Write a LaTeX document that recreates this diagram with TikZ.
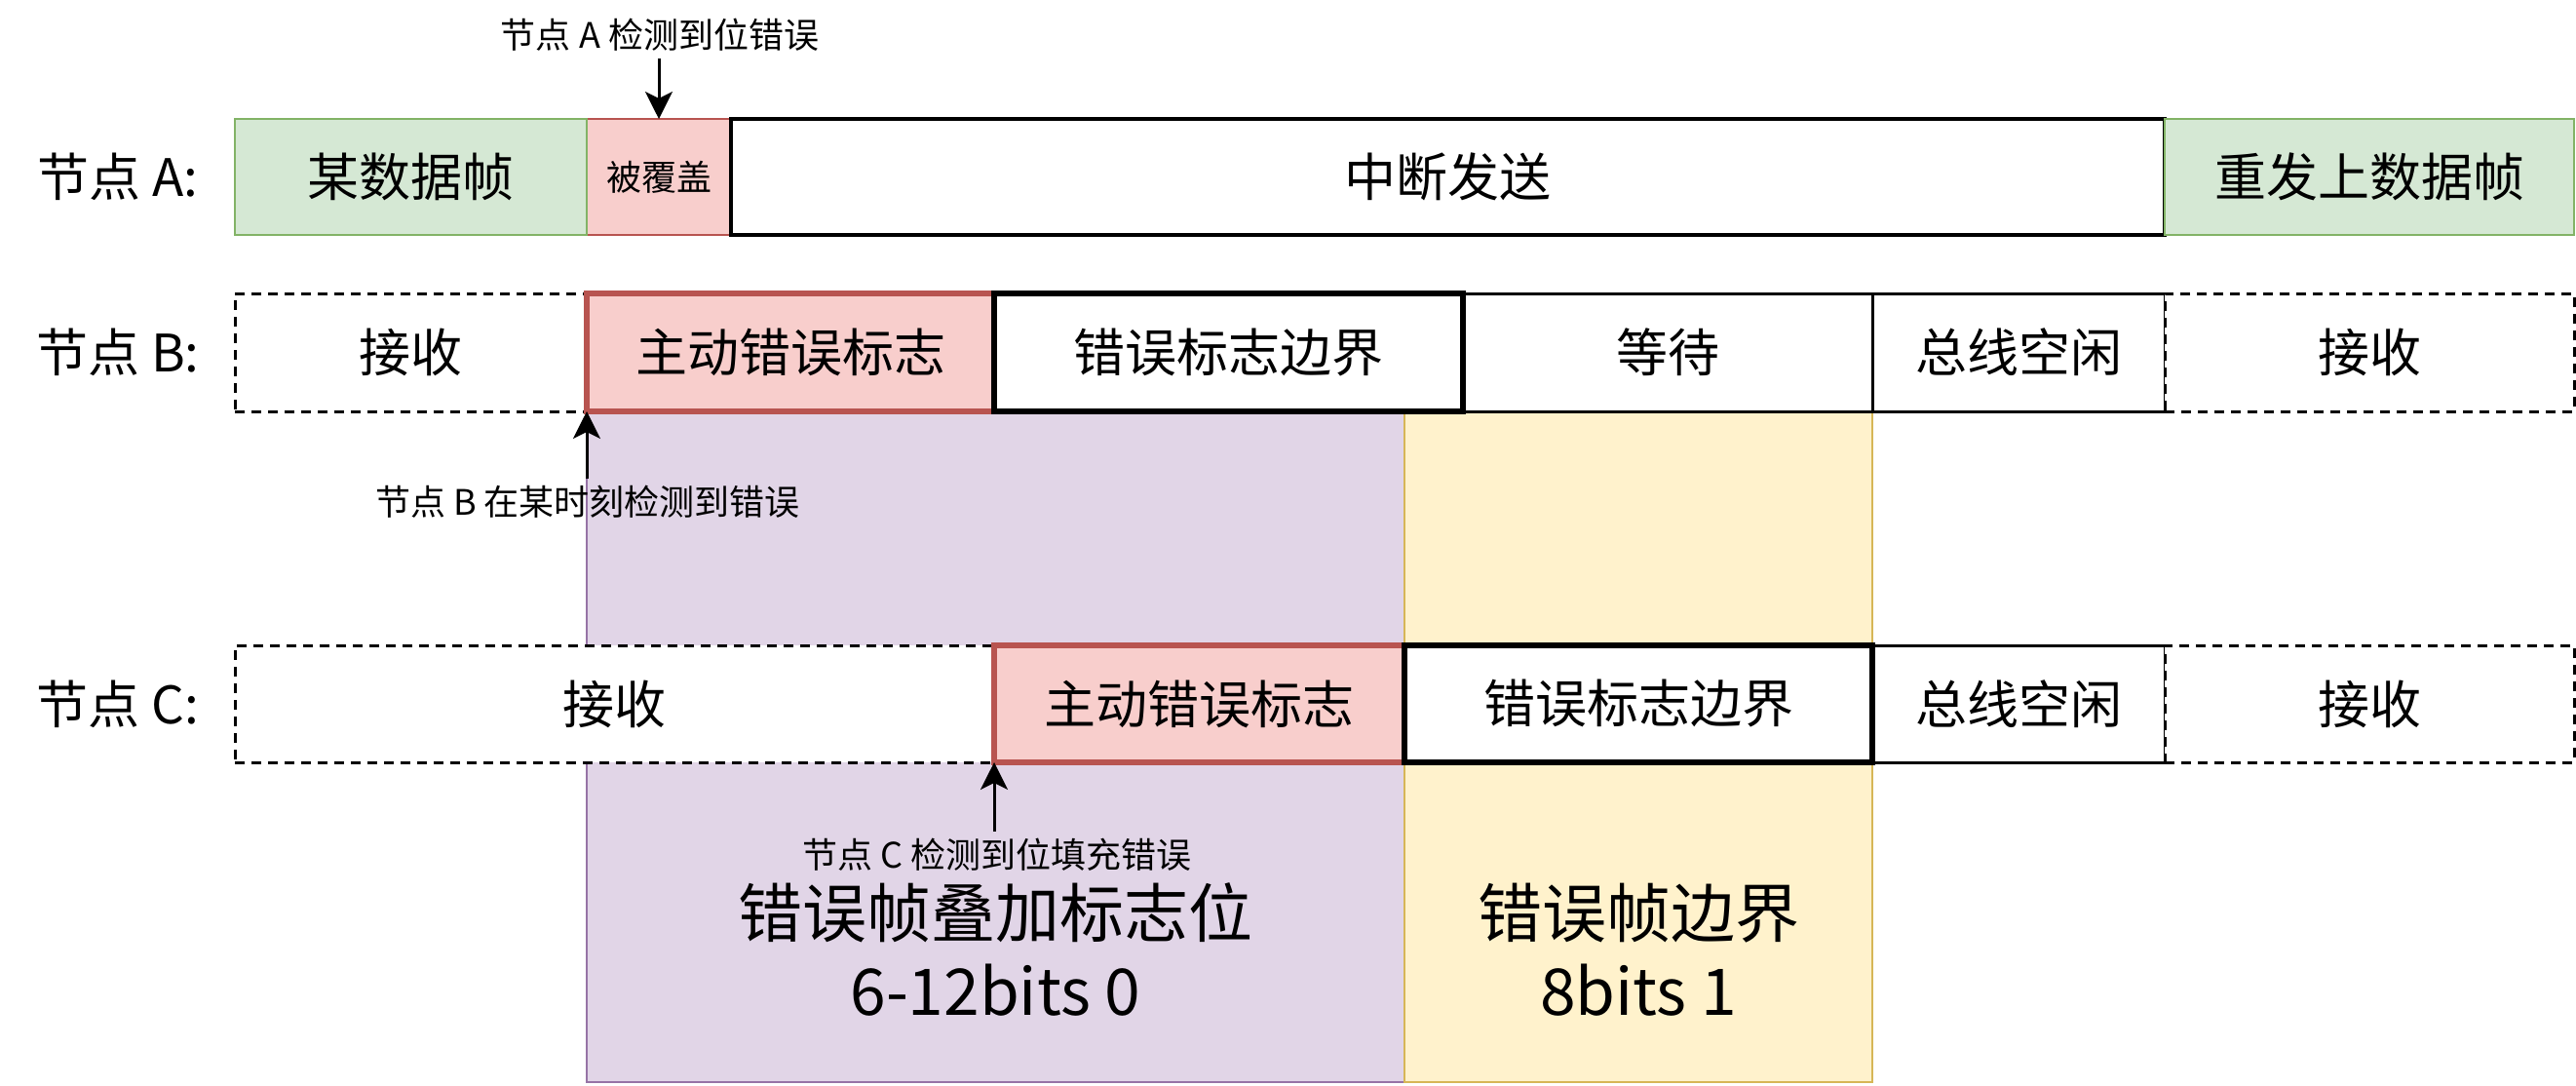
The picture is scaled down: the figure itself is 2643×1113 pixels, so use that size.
\documentclass[tikz,border=0pt]{standalone}
\usepackage{fontspec}
\newfontfamily\cjk{Noto Sans CJK SC}
\usetikzlibrary{arrows.meta}
\definecolor{gfill}{HTML}{D5E8D4}
\definecolor{gline}{HTML}{82B366}
\definecolor{rfill}{HTML}{F8CECC}
\definecolor{rline}{HTML}{B85450}
\definecolor{pfill}{HTML}{E1D5E7}
\definecolor{pline}{HTML}{9673A6}
\definecolor{yfill}{HTML}{FFF2CC}
\definecolor{yline}{HTML}{D6B656}
\tikzset{
  bigtxt/.style={font=\cjk\fontsize{26.5}{32}\selectfont},
  smalltxt/.style={font=\cjk\fontsize{18}{22}\selectfont},
  hugetxt/.style={font=\cjk\fontsize{33}{40}\selectfont, align=center},
  box/.style={rectangle, inner sep=0pt, outer sep=0pt, fill=white, draw=black, line width=1.5pt, bigtxt},
  dashbox/.style={box, dash pattern=on 5pt off 3.5pt},
  thickbox/.style={box, line width=2.8pt},
  redbox/.style={box, fill=rfill, draw=rline, line width=2.8pt},
  greenbox/.style={box, fill=gfill, draw=gline, line width=1.2pt},
  rowA/.style={minimum height=59.5pt},
  rowB/.style={minimum height=60.5pt},
  rowC/.style={minimum height=60pt},
  region/.style={rectangle, inner sep=0pt, outer sep=0pt, line width=1.2pt},
  arr/.style={-{Stealth[length=14pt,width=14pt,inset=3.5pt]}, line width=1.5pt},
}
\begin{document}
\begin{tikzpicture}[x=0.5pt,y=-0.5pt]
\fill[white] (0,0) rectangle (2643,1113);
\useasboundingbox (0,0) rectangle (2643,1113);

% background regions
\node[region, fill=pfill, draw=pline, minimum width=419.5pt, minimum height=344pt] (P) at (1021.5,766) {};
\node[region, fill=yfill, draw=yline, minimum width=240pt, minimum height=344pt] (Y) at (1681,766) {};

% row labels
\node[bigtxt] (LA) at (121,181.5) {节点 A:};
\node[bigtxt] (LB) at (121,361.5) {节点 B:};
\node[bigtxt] (LC) at (121,722) {节点 C:};

% row A
\node[box, rowA, fill=rfill, draw=rline, line width=1.2pt, minimum width=74pt, font=\cjk\fontsize{18}{22}\selectfont] (A2) at (676,181.5) {被覆盖};
\node[greenbox, rowA, minimum width=180.5pt] (A1) at (421.5,181.5) {某数据帧};
\node[box, rowA, line width=1.6pt, minimum width=735.5pt] (A3) at (1485.5,181.5) {中断发送};
\node[greenbox, rowA, minimum width=210pt] (A4) at (2431,181.5) {重发上数据帧};

% row B
\node[dashbox, rowB, minimum width=180.5pt] (B1) at (421.5,361.5) {接收};
\node[box, rowB, minimum width=210pt] (B4) at (1711,361.5) {等待};
\node[box, rowB, minimum width=150pt] (B5) at (2071,361.5) {总线空闲};
\node[dashbox, rowB, minimum width=210pt] (B6) at (2431,361.5) {接收};
\node[redbox, rowB, minimum width=209pt] (B2) at (811,361.5) {主动错误标志};
\node[thickbox, rowB, minimum width=240.5pt] (B3) at (1260.5,361.5) {错误标志边界};

% row C
\node[dashbox, rowC, minimum width=389.5pt] (C1) at (630.5,722) {接收};
\node[box, rowC, minimum width=150pt] (C4) at (2071,722) {总线空闲};
\node[dashbox, rowC, minimum width=210pt] (C5) at (2431,722) {接收};
\node[redbox, rowC, minimum width=210.5pt] (C2) at (1230.5,722) {主动错误标志};
\node[thickbox, rowC, minimum width=240pt] (C3) at (1681,722) {错误标志边界};

% annotations
\node[smalltxt] (NA) at (677,36) {节点 A 检测到位错误};
\node[smalltxt] (NB) at (603,515) {节点 B 在某时刻检测到错误};
\node[smalltxt] (NC) at (1023,877) {节点 C 检测到位填充错误};

\node[hugetxt] (PT) at (1021.5,974) {错误帧叠加标志位\\6-12bits 0};
\node[hugetxt] (YT) at (1681,974) {错误帧边界\\8bits 1};

% arrows
\draw[arr] (NA.south -| A2.north) -- (A2.north);
\draw[arr] (NB.north -| B2.south west) -- (B2.south west);
\draw[arr] (NC.north -| C2.south west) -- (C2.south west);
\end{tikzpicture}
\end{document}
